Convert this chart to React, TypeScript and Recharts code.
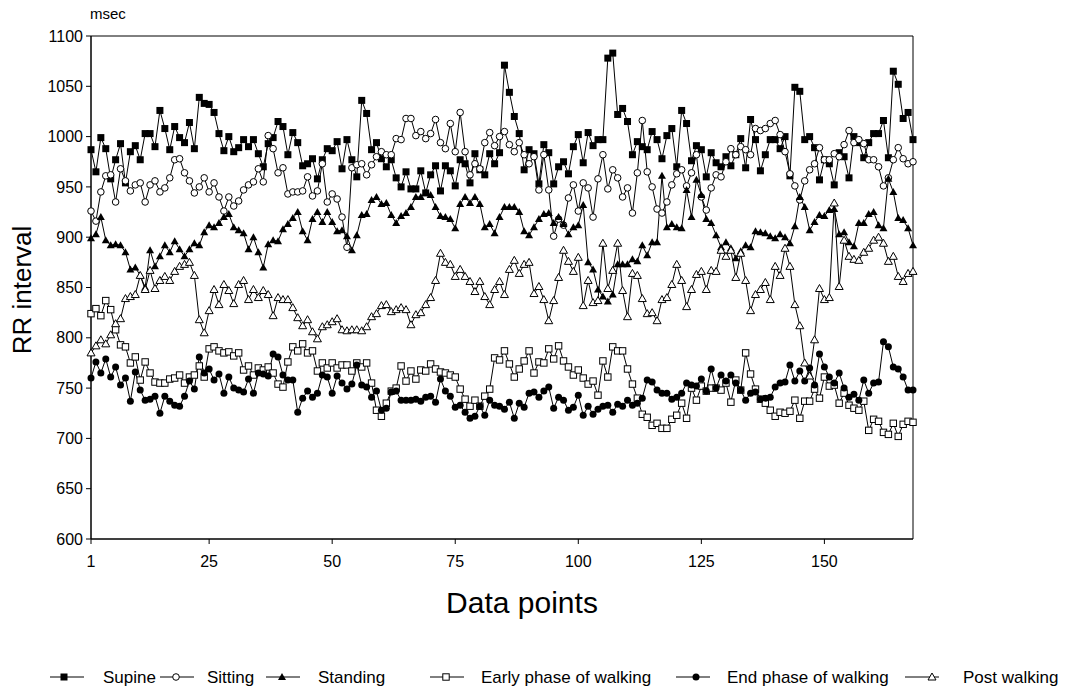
import React from 'react';
import { LineChart, Line, XAxis, YAxis, ReferenceArea } from 'recharts';

// data point number (x axis)
const pointIndex = Array.from({ length: 168 }, (_, i) => i + 1);

// RR interval in msec, one value per data point
const supine = [
  987, 965, 999, 988, 958, 977, 993, 954, 985, 991,
  977, 1003, 1003, 990, 1026, 1008, 987, 1010, 999, 994,
  1014, 988, 1039, 1033, 1032, 1024, 1003, 986, 1000, 985,
  989, 997, 990, 997, 983, 970, 993, 999, 1015, 1010,
  982, 1004, 994, 971, 973, 978, 958, 977, 988, 986,
  995, 968, 997, 977, 960, 1036, 1023, 987, 994, 978,
  970, 977, 959, 950, 965, 948, 948, 966, 944, 962,
  971, 946, 971, 966, 951, 977, 973, 954, 983, 967,
  962, 983, 973, 984, 1071, 1044, 1020, 1003, 967, 987,
  983, 953, 992, 984, 953, 970, 975, 963, 990, 1002,
  974, 1004, 991, 997, 997, 1078, 1083, 1022, 1028, 1015,
  982, 995, 990, 987, 1005, 997, 978, 1001, 1008, 970,
  1026, 1013, 976, 991, 987, 960, 984, 974, 970, 980,
  971, 982, 998, 969, 1017, 997, 966, 982, 997, 997,
  988, 1000, 961, 1049, 1045, 997, 1000, 989, 957, 977,
  973, 952, 984, 980, 959, 1000, 994, 979, 994, 1003,
  1003, 1016, 979, 1065, 1052, 1018, 1024, 997,
];

const sitting = [
  926, 916, 945, 961, 962, 935, 968, 956, 946, 952,
  954, 935, 952, 956, 945, 949, 959, 977, 978, 964,
  956, 944, 950, 959, 945, 954, 940, 926, 940, 931,
  936, 947, 952, 955, 968, 955, 1001, 988, 964, 969,
  943, 945, 945, 946, 960, 941, 946, 973, 935, 943,
  938, 920, 890, 969, 972, 973, 962, 972, 980, 985,
  982, 982, 998, 997, 1018, 1018, 1001, 1005, 998, 1003,
  1017, 994, 988, 1013, 985, 1024, 985, 962, 973, 968,
  994, 1004, 991, 1000, 1005, 992, 985, 994, 982, 973,
  980, 947, 982, 947, 901, 918, 912, 939, 952, 926,
  954, 949, 920, 958, 982, 948, 967, 959, 940, 949,
  924, 964, 1016, 965, 950, 928, 924, 935, 952, 963,
  967, 951, 964, 982, 940, 927, 949, 962, 960, 975,
  988, 982, 990, 987, 982, 1008, 1006, 1008, 1013, 1016,
  1002, 985, 963, 951, 937, 956, 967, 973, 989, 977,
  977, 983, 980, 992, 1006, 994, 997, 993, 977, 977,
  970, 951, 959, 977, 989, 978, 973, 975,
];

const standing = [
  899, 903, 920, 897, 892, 893, 892, 885, 868, 870,
  862, 850, 887, 871, 881, 892, 885, 896, 888, 881,
  888, 894, 892, 905, 912, 910, 914, 920, 923, 910,
  907, 904, 888, 900, 885, 870, 893, 897, 896, 908,
  913, 919, 925, 906, 897, 918, 925, 915, 925, 915,
  906, 907, 901, 887, 902, 922, 923, 937, 940, 933,
  934, 922, 914, 921, 924, 930, 940, 940, 944, 942,
  930, 921, 920, 918, 909, 933, 940, 934, 940, 933,
  910, 913, 904, 920, 930, 930, 930, 925, 906, 902,
  910, 918, 923, 924, 914, 920, 913, 903, 910, 912,
  932, 875, 868, 848, 841, 836, 843, 873, 873, 873,
  878, 876, 892, 882, 895, 895, 961, 910, 913, 910,
  909, 947, 920, 957, 942, 918, 914, 902, 890, 895,
  889, 879, 886, 892, 890, 906, 905, 904, 901, 899,
  903, 900, 894, 911, 940, 930, 907, 915, 922, 921,
  927, 928, 903, 905, 895, 891, 914, 914, 923, 925,
  912, 909, 958, 945, 919, 917, 909, 892,
];

const earlyWalking = [
  824, 829, 822, 837, 828, 808, 793, 791, 775, 781,
  758, 776, 765, 756, 755, 755, 759, 760, 763, 755,
  761, 763, 772, 761, 789, 791, 787, 785, 786, 782,
  785, 768, 772, 763, 770, 768, 771, 765, 754, 751,
  776, 791, 787, 794, 785, 787, 767, 775, 770, 775,
  770, 773, 773, 767, 775, 771, 775, 755, 728, 722,
  735, 747, 750, 772, 757, 767, 759, 768, 767, 774,
  769, 766, 765, 763, 761, 749, 739, 732, 738, 732,
  742, 749, 780, 778, 787, 774, 761, 769, 777, 787,
  765, 776, 775, 789, 779, 792, 777, 771, 763, 768,
  760, 754, 757, 743, 777, 761, 791, 787, 787, 769,
  754, 740, 724, 721, 713, 715, 710, 710, 719, 723,
  735, 720, 750, 738, 752, 747, 750, 750, 748, 755,
  736, 758, 748, 785, 764, 749, 739, 735, 728, 722,
  726, 725, 727, 738, 720, 737, 737, 749, 740, 761,
  752, 753, 735, 745, 733, 730, 728, 737, 708, 719,
  717, 706, 704, 715, 702, 714, 717, 716,
];

const endWalking = [
  760, 776, 765, 779, 761, 771, 753, 760, 737, 766,
  748, 738, 739, 742, 725, 742, 737, 733, 732, 742,
  757, 749, 781, 765, 769, 758, 764, 745, 761, 750,
  748, 746, 759, 745, 765, 764, 762, 784, 781, 763,
  758, 758, 726, 740, 747, 741, 745, 763, 761, 745,
  762, 755, 749, 754, 773, 753, 751, 741, 747, 728,
  730, 746, 747, 738, 738, 738, 739, 737, 741, 742,
  736, 759, 747, 742, 731, 733, 726, 720, 722, 732,
  723, 738, 733, 732, 729, 736, 720, 735, 731, 745,
  746, 741, 747, 751, 730, 741, 738, 728, 731, 743,
  723, 732, 724, 729, 732, 733, 726, 734, 732, 738,
  733, 735, 740, 758, 756, 748, 745, 745, 739, 741,
  745, 755, 753, 752, 759, 747, 769, 750, 763, 757,
  763, 755, 748, 738, 745, 746, 739, 740, 741, 751,
  755, 756, 773, 757, 767, 757, 770, 753, 784, 771,
  761, 755, 765, 750, 741, 744, 738, 758, 745, 755,
  756, 796, 791, 771, 769, 761, 748, 748,
];

const postWalking = [
  785, 792, 798, 794, 803, 814, 819, 839, 841, 843,
  862, 848, 867, 849, 857, 861, 857, 866, 871, 873,
  875, 862, 818, 805, 827, 848, 833, 853, 847, 834,
  853, 857, 838, 848, 840, 847, 843, 822, 840, 838,
  838, 830, 820, 812, 818, 806, 799, 811, 813, 816,
  819, 808, 807, 808, 808, 807, 811, 821, 824, 832,
  833, 826, 828, 830, 828, 813, 823, 825, 833, 840,
  857, 884, 875, 873, 861, 868, 861, 856, 846, 856,
  841, 833, 848, 856, 843, 868, 877, 864, 873, 875,
  844, 851, 838, 817, 837, 860, 887, 876, 866, 880,
  832, 857, 835, 837, 894, 849, 867, 894, 847, 821,
  864, 862, 839, 824, 825, 817, 838, 840, 853, 873,
  857, 831, 848, 863, 866, 848, 867, 866, 887, 881,
  887, 860, 884, 857, 827, 843, 848, 855, 838, 871,
  862, 889, 871, 833, 812, 775, 762, 798, 849, 838,
  840, 934, 851, 897, 881, 878, 877, 885, 889, 897,
  900, 894, 876, 881, 861, 856, 864, 866,
];

const xTicks = [1, 25, 50, 75, 100, 125, 150];
const yTicks = [600, 650, 700, 750, 800, 850, 900, 950, 1000, 1050, 1100];

const data = pointIndex.map((x, i) => ({
  x,
  supine: supine[i],
  sitting: sitting[i],
  standing: standing[i],
  early: earlyWalking[i],
  end: endWalking[i],
  post: postWalking[i],
}));

type Shape = 'fsquare' | 'ocircle' | 'ftriangle' | 'osquare' | 'fcircle' | 'otriangle';

const series: { key: string; name: string; shape: Shape; iconX: number; markX: number; textX: number }[] = [
  { key: 'supine', name: 'Supine', shape: 'fsquare', iconX: 50, markX: 64, textX: 103 },
  { key: 'sitting', name: 'Sitting', shape: 'ocircle', iconX: 160, markX: 176, textX: 207 },
  { key: 'standing', name: 'Standing', shape: 'ftriangle', iconX: 266, markX: 282, textX: 318 },
  { key: 'early', name: 'Early phase of walking', shape: 'osquare', iconX: 430, markX: 446, textX: 481 },
  { key: 'end', name: 'End phase of walking', shape: 'fcircle', iconX: 676, markX: 696, textX: 727 },
  { key: 'post', name: 'Post walking', shape: 'otriangle', iconX: 905, markX: 932, textX: 963 },
];

const FONT = '"Liberation Sans", Arial, sans-serif';

const Marker = ({ shape, cx, cy }: { shape: Shape; cx: number; cy: number }) => {
  if (cx == null || cy == null) return null;
  switch (shape) {
    case 'fsquare':
      return <rect x={cx - 3.5} y={cy - 3.5} width={7} height={7} fill="#000" />;
    case 'osquare':
      return <rect x={cx - 3.2} y={cy - 3.2} width={6.4} height={6.4} fill="#fff" stroke="#000" strokeWidth={1} />;
    case 'ocircle':
      return <circle cx={cx} cy={cy} r={3.3} fill="#fff" stroke="#000" strokeWidth={1} />;
    case 'fcircle':
      return <circle cx={cx} cy={cy} r={3.5} fill="#000" />;
    case 'ftriangle':
      return <polygon points={`${cx},${cy - 4} ${cx - 4},${cy + 3} ${cx + 4},${cy + 3}`} fill="#000" />;
    case 'otriangle':
      return (
        <polygon
          points={`${cx},${cy - 4} ${cx - 4},${cy + 3} ${cx + 4},${cy + 3}`}
          fill="#fff"
          stroke="#000"
          strokeWidth={1}
        />
      );
  }
  return null;
};

const App = () => {
  return (
    <div style={{ position: 'absolute', left: 0, top: 0, width: 1073, height: 689, background: '#fff', fontFamily: FONT }}>
      <LineChart width={1073} height={689} data={data} margin={{ top: 36, right: 160, bottom: 120, left: 31 }}>
        <XAxis
          dataKey="x"
          type="number"
          domain={[1, 168]}
          ticks={xTicks}
          interval={0}
          allowDecimals={false}
          height={30}
          tickSize={5}
          tickMargin={12}
          stroke="#000"
          tick={{ fill: '#000', fontSize: 16, fontFamily: FONT }}
        />
        <YAxis
          domain={[600, 1100]}
          ticks={yTicks}
          interval={0}
          width={60}
          tickSize={5}
          tickMargin={3}
          stroke="#000"
          tick={{ fill: '#000', fontSize: 16, fontFamily: FONT }}
        />
        <ReferenceArea x1={1} x2={168} y1={600} y2={1100} fill="none" stroke="#000" strokeWidth={1} ifOverflow="visible" />
        {series.map((s) => (
          <Line
            key={s.key}
            dataKey={s.key}
            name={s.name}
            stroke="#000"
            strokeWidth={1}
            isAnimationActive={false}
            dot={(p: any) => <Marker key={`${s.key}-${p.index}`} shape={s.shape} cx={p.cx} cy={p.cy} />}
            activeDot={false}
          />
        ))}
      </LineChart>

      <div style={{ position: 'absolute', left: 90, top: 5, fontSize: 15 }}>msec</div>
      <div
        style={{
          position: 'absolute',
          left: 22,
          top: 290,
          fontSize: 26,
          whiteSpace: 'nowrap',
          transform: 'translate(-50%, -50%) rotate(-90deg)',
        }}
      >
        RR interval
      </div>
      <div style={{ position: 'absolute', left: 522, top: 603, fontSize: 30, transform: 'translate(-50%, -50%)', whiteSpace: 'nowrap' }}>
        Data points
      </div>

      <svg width={1073} height={30} style={{ position: 'absolute', left: 0, top: 662 }}>
        {series.map((s) => (
          <g key={s.key}>
            <line x1={s.iconX} x2={s.iconX + 34} y1={15} y2={15} stroke="#000" strokeWidth={1} />
            <Marker shape={s.shape} cx={s.markX} cy={15} />
            <text x={s.textX} y={21} fontSize={17} fontFamily={FONT} fill="#000">
              {s.name}
            </text>
          </g>
        ))}
      </svg>
    </div>
  );
};

export default App;
